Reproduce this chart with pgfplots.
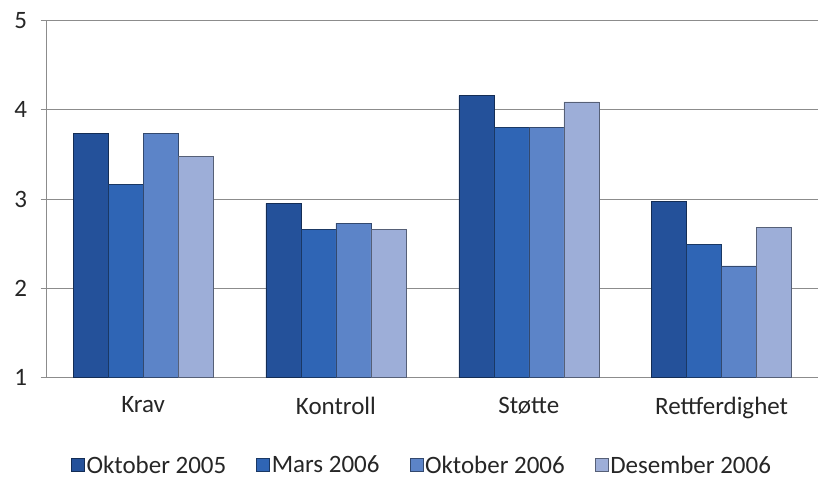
\documentclass[border=0pt]{standalone}
\usepackage{fontspec}
\setmainfont{Carlito}
\usepackage{pgfplots}
\pgfplotsset{compat=1.18}

\definecolor{okt05}{HTML}{24519A}
\definecolor{mar06}{HTML}{2F65B5}
\definecolor{okt06}{HTML}{5C84C8}
\definecolor{des06}{HTML}{9DAED8}
\definecolor{gridgray}{HTML}{8C8C8C}
\definecolor{txt}{HTML}{262626}

\pgfplotstableread{
x  okt05 mar06 okt06 des06
0  3.74  3.16  3.74  3.48
1  2.95  2.66  2.73  2.66
2  4.16  3.80  3.80  4.09
3  2.97  2.49  2.25  2.68
}\datatable

\pgfplotsset{
  barstyle/.style={fill=#1, draw=#1!55!black, line width=0.5pt},
}

\begin{document}
\begin{tikzpicture}
\path[use as bounding box] (-46.7pt,-110.7pt) rectangle (771.3pt,377.3pt);
\begin{axis}[
  at={(0pt,0pt)}, anchor=south west,
  scale only axis,
  width=771.3pt, height=356.6pt,
  xmin=-0.5, xmax=3.5,
  ymin=1, ymax=5,
  ytick={1,2,3,4,5},
  xtick={0,1,2,3},
  xticklabels={Krav, Kontroll, Støtte, Rettferdighet},
  extra x ticks={-0.5,0.5,1.5,2.5,3.5},
  extra x tick labels={},
  extra x tick style={grid=none, major tick length=5pt, tick align=outside,
    tick style={draw=gridgray, line width=0.8pt}},
  x tick style={draw=none},
  major tick length=6pt,
  y tick style={draw=gridgray, line width=0.8pt},
  tick align=outside,
  axis x line*=bottom,
  axis y line*=left,
  axis line style={draw=gridgray, line width=0.8pt, -},
  ymajorgrids=true,
  grid style={draw=gridgray, line width=0.8pt},
  ybar=0pt,
  bar width=35pt,
  /pgf/number format/assume math mode=true,
  ticklabel style={font=\fontsize{25}{28}\selectfont, text=txt},
  yticklabel style={xshift=-10pt},
  xticklabel style={yshift=-10pt},
  legend columns=4,
  legend style={at={(0.4866,-0.2465)}, anchor=center, draw=none, fill=none,
    font=\fontsize{25}{28}\selectfont, text=txt,
    /tikz/every even column/.append style={column sep=28pt},
    nodes={inner xsep=2pt}},
  legend image code/.code={\filldraw[#1] (0pt,-6.5pt) rectangle (13pt,6.5pt);},
]
\addplot[barstyle=okt05] table[x=x, y=okt05] {\datatable};
\addlegendentry{Oktober 2005}
\addplot[barstyle=mar06] table[x=x, y=mar06] {\datatable};
\addlegendentry{Mars 2006}
\addplot[barstyle=okt06] table[x=x, y=okt06] {\datatable};
\addlegendentry{Oktober 2006}
\addplot[barstyle=des06] table[x=x, y=des06] {\datatable};
\addlegendentry{Desember 2006}
\end{axis}
\end{tikzpicture}
\end{document}
